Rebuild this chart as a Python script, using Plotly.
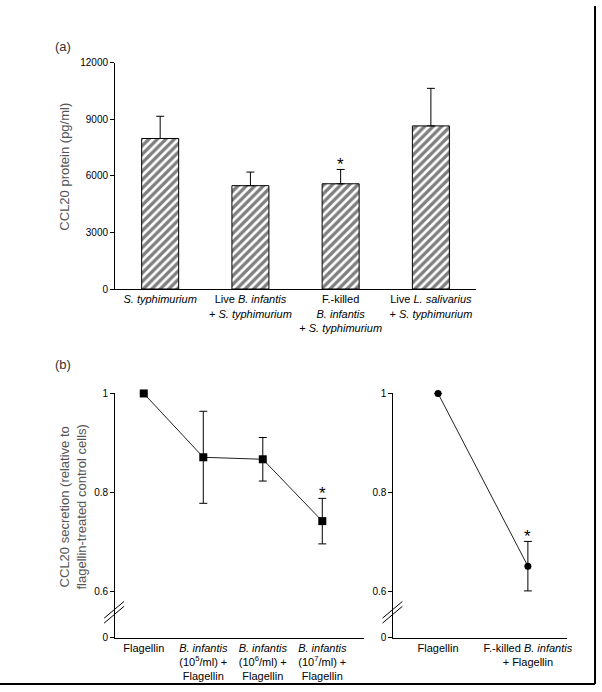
import plotly.graph_objects as go

W, H = 602, 692
FONT = "Liberation Sans, Arial, sans-serif"

# panel (a): CCL20 protein
a_labels = [
    "<i>S. typhimurium</i>",
    "Live <i>B. infantis</i><br>+ <i>S. typhimurium</i>",
    "F.-killed<br><i>B. infantis</i><br>+ <i>S. typhimurium</i>",
    "Live <i>L. salivarius</i><br>+ <i>S. typhimurium</i>",
]
a_values = [7980, 5480, 5580, 8650]
a_errors = [1180, 720, 760, 1990]
a_star = [False, False, True, False]
a_ticks = [0, 3000, 6000, 9000, 12000]

# panel (b), left: live B. infantis doses
bl_labels = [
    "Flagellin",
    "<i>B. infantis</i><br>(10<sup>5</sup>/ml) +<br>Flagellin",
    "<i>B. infantis</i><br>(10<sup>6</sup>/ml) +<br>Flagellin",
    "<i>B. infantis</i><br>(10<sup>7</sup>/ml) +<br>Flagellin",
]
bl_values = [1.0, 0.871, 0.867, 0.742]
bl_errors = [0.0, 0.093, 0.044, 0.046]
bl_star = [False, False, False, True]

# panel (b), right: fixed-killed B. infantis
br_labels = ["Flagellin", "F.-killed <i>B. infantis</i><br>+ Flagellin"]
br_values = [1.0, 0.651]
br_errors = [0.0, 0.05]
br_star = [False, True]

# broken y axis: "0" is drawn just below 0.6
b_ticks = [0.5067, 0.6, 0.8, 1.0]
b_ticktext = ["0", "0.6", "0.8", "1"]


def px_x(p):
    return p / W


def px_y(p):
    return 1 - p / H


fig = go.Figure()

fig.add_trace(
    go.Bar(
        x=a_labels,
        y=a_values,
        width=0.41,
        marker=dict(
            color="white",
            line=dict(color="black", width=1),
            pattern=dict(shape="/", fgcolor="black", bgcolor="white", size=6, solidity=0.55),
        ),
        error_y=dict(
            type="data", array=a_errors, arrayminus=[0] * len(a_errors),
            symmetric=False, color="black", thickness=1, width=4,
        ),
        xaxis="x", yaxis="y",
    )
)

fig.add_trace(
    go.Scatter(
        x=bl_labels,
        y=bl_values,
        mode="lines+markers",
        line=dict(color="#222", width=1),
        marker=dict(symbol="square", size=8, color="black"),
        error_y=dict(type="data", array=bl_errors, color="black", thickness=1, width=4),
        cliponaxis=False,
        xaxis="x2", yaxis="y2",
    )
)

fig.add_trace(
    go.Scatter(
        x=br_labels,
        y=br_values,
        mode="lines+markers",
        line=dict(color="#222", width=1),
        marker=dict(symbol="circle", size=7, color="black"),
        error_y=dict(type="data", array=br_errors, color="black", thickness=1, width=4),
        cliponaxis=False,
        xaxis="x3", yaxis="y3",
    )
)

axis_common = dict(
    showline=True, linecolor="black", linewidth=1, showgrid=False, zeroline=False,
    tickfont=dict(family=FONT, size=10, color="black"),
)

star_font = dict(family=FONT, size=17, color="black")
annotations = []
# significance stars
for lab, v, e, s in zip(a_labels, a_values, a_errors, a_star):
    if s:
        annotations.append(dict(x=lab, y=v + e, xref="x", yref="y", text="*",
                                showarrow=False, yanchor="bottom", yshift=-7, font=star_font))
for lab, v, e, s in zip(bl_labels, bl_values, bl_errors, bl_star):
    if s:
        annotations.append(dict(x=lab, y=v + e, xref="x2", yref="y2", text="*",
                                showarrow=False, yanchor="bottom", yshift=-7, font=star_font))
for lab, v, e, s in zip(br_labels, br_values, br_errors, br_star):
    if s:
        annotations.append(dict(x=lab, y=v + e, xref="x3", yref="y3", text="*",
                                showarrow=False, yanchor="bottom", yshift=-7, font=star_font))

# panel letters and axis titles
annotations += [
    dict(x=px_x(53), y=px_y(41), xref="paper", yref="paper", text="(a)", showarrow=False,
         xanchor="left", yanchor="middle", font=dict(family=FONT, size=13, color="#333")),
    dict(x=px_x(53), y=px_y(365), xref="paper", yref="paper", text="(b)", showarrow=False,
         xanchor="left", yanchor="middle", font=dict(family=FONT, size=13, color="#333")),
    dict(x=px_x(65), y=px_y(163), xref="paper", yref="paper", text="CCL20 protein (pg/ml)",
         textangle=-90, showarrow=False, xanchor="center", yanchor="middle",
         font=dict(family=FONT, size=13, color="#555")),
    dict(x=px_x(74), y=px_y(510), xref="paper", yref="paper",
         text="CCL20 secretion (relative to<br>flagellin-treated control cells)",
         textangle=-90, showarrow=False, xanchor="center", yanchor="middle",
         font=dict(family=FONT, size=13, color="#555")),
]

# axis-break marks and page frame
shapes = []
for x0 in (116, 396.7):
    for dy in (0, 5):
        shapes.append(dict(type="line", xref="paper", yref="paper",
                           x0=px_x(x0 - 11), y0=px_y(623 + dy),
                           x1=px_x(x0 + 9), y1=px_y(606 + dy),
                           line=dict(color="black", width=1)))
shapes += [
    dict(type="line", xref="paper", yref="paper", x0=px_x(600), x1=px_x(600), y0=px_y(690), y1=1,
         line=dict(color="black", width=2)),
    dict(type="line", xref="paper", yref="paper", x0=0, x1=px_x(600), y0=px_y(690), y1=px_y(690),
         line=dict(color="black", width=2)),
]

fig.update_layout(
    width=W, height=H,
    margin=dict(l=0, r=0, t=0, b=0),
    paper_bgcolor="white", plot_bgcolor="white",
    showlegend=False,
    font=dict(family=FONT, size=11, color="black"),
    xaxis=dict(domain=[px_x(116), px_x(480)], anchor="y", range=[-0.5, 3.5],
               ticks="", tickfont=dict(family=FONT, size=11, color="black"),
               showline=True, linecolor="black"),
    yaxis=dict(axis_common, domain=[px_y(288), px_y(57.7)], anchor="x", range=[0, 12000],
               tickvals=a_ticks, tickformat="d", ticks="outside", ticklen=4, tickcolor="black"),
    xaxis2=dict(domain=[px_x(116), px_x(367)], anchor="y2", range=[-0.483, 3.7],
                ticks="", tickfont=dict(family=FONT, size=11, color="black"),
                showline=True, linecolor="black"),
    yaxis2=dict(axis_common, domain=[px_y(642.7), px_y(394.3)], anchor="x2", range=[0.5067, 1.0],
                tickvals=b_ticks, ticktext=b_ticktext, ticks="outside", ticklen=4, tickcolor="black"),
    xaxis3=dict(domain=[px_x(396.7), px_x(571.7)], anchor="y3", range=[-0.497, 1.435],
                ticks="", tickfont=dict(family=FONT, size=11, color="black"),
                showline=True, linecolor="black"),
    yaxis3=dict(axis_common, domain=[px_y(642.7), px_y(394.3)], anchor="x3", range=[0.5067, 1.0],
                tickvals=b_ticks, ticktext=b_ticktext, ticks="outside", ticklen=4, tickcolor="black"),
    annotations=annotations,
    shapes=shapes,
)

fig.write_html(
    "out.html",
    config={"displayModeBar": False},
    post_script="document.body.style.margin='0px';",
)
